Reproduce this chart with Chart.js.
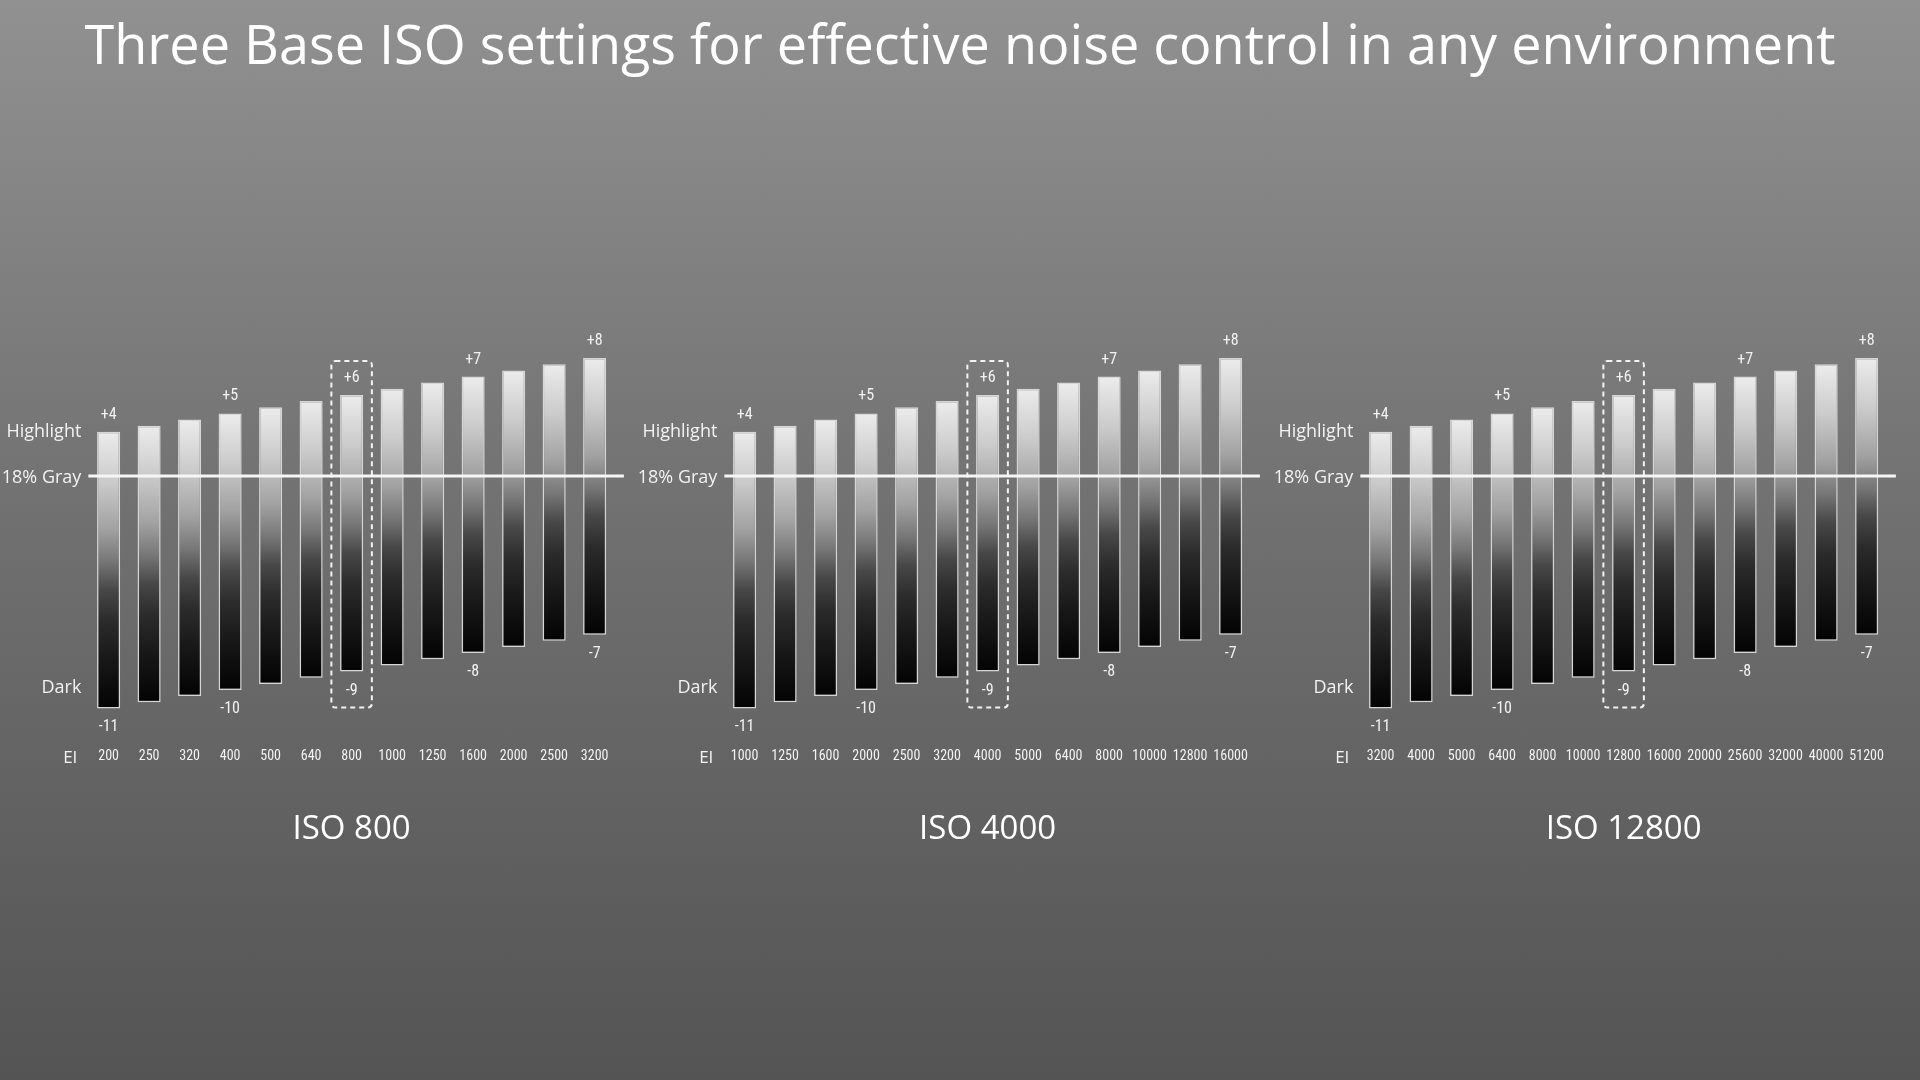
<!DOCTYPE html>
<html>
<head>
<meta charset="utf-8">
<script src="https://cdn.jsdelivr.net/npm/chart.js@4.4.1/dist/chart.umd.min.js"></script>
<style>
  html, body { margin: 0; padding: 0; }
  body {
    width: 1920px; height: 1080px; overflow: hidden; position: relative;
    background: linear-gradient(to bottom, #919191 0%, #6f6f6f 50%, #545454 100%);
    font-family: "Open Sans", "Noto Sans", sans-serif;
  }
  #titulo {
    position: absolute; left: 0; top: 7px; width: 1920px; text-align: center;
    color: #fff; font-size: 54px; line-height: 72px; white-space: nowrap;
  }
  .panel { position: absolute; top: 300px; width: 636px; height: 600px; }
</style>
</head>
<body>
<div id="titulo">Three Base ISO settings for effective noise control in any environment</div>
<div class="panel" style="left:0px"><canvas id="chartIso800"></canvas></div>
<div class="panel" style="left:636px"><canvas id="chartIso4000"></canvas></div>
<div class="panel" style="left:1272px"><canvas id="chartIso12800"></canvas></div>
<script>
// EI values for each base ISO
const eiIso800 = ['200', '250', '320', '400', '500', '640', '800', '1000', '1250', '1600', '2000', '2500', '3200'];
const eiIso4000 = ['1000', '1250', '1600', '2000', '2500', '3200', '4000', '5000', '6400', '8000', '10000', '12800', '16000'];
const eiIso12800 = ['3200', '4000', '5000', '6400', '8000', '10000', '12800', '16000', '20000', '25600', '32000', '40000', '51200'];

// latitude in stops (same for the three bases)
const highlightStops = [4, 4.33, 4.67, 5, 5.33, 5.67, 6, 6.33, 6.67, 7, 7.33, 7.67, 8];
const darkStops = [-11, -10.67, -10.33, -10, -9.67, -9.33, -9, -8.67, -8.33, -8, -7.67, -7.33, -7];

const isoTitles = ['ISO 800', 'ISO 4000', 'ISO 12800'];
const baseIndex = 6;          // EI that equals the base ISO (dashed box)
const grayLevel = 1.6;        // where the 18% gray line sits
const sideLabels = ['Highlight', '18% Gray', 'Dark'];
const sideValues = [4, 1.5, -9.9];

const textColor = '#f2f2f2';
const tickFont = '"Roboto Condensed", "DejaVu Sans Condensed", Roboto, sans-serif';
const labelFont = '"Open Sans", "Noto Sans", sans-serif';

function barGradient(context) {
    const chart = context.chart;
    if (!chart.chartArea || !context.raw) return '#888';
    const y = chart.scales.y;
    const top = y.getPixelForValue(context.raw[1]);
    const bottom = y.getPixelForValue(context.raw[0]);
    const g = chart.ctx.createLinearGradient(0, top, 0, bottom);
    g.addColorStop(0, '#ececec');
    g.addColorStop(0.18, '#cbcbcb');
    g.addColorStop(0.35, '#a2a2a2');
    g.addColorStop(0.47, '#767676');
    g.addColorStop(0.57, '#484848');
    g.addColorStop(0.68, '#2c2c2c');
    g.addColorStop(0.82, '#181818');
    g.addColorStop(1, '#030303');
    return g;
}

// 18% gray line, dashed box, stop labels and the EI label
const decoracion = {
    id: 'decoracion',
    afterDatasetsDraw(chart) {
        const ctx = chart.ctx;
        const area = chart.chartArea;
        const x = chart.scales.x;
        const y = chart.scales.y;
        const meta = chart.getDatasetMeta(0);
        ctx.save();

        // gray line
        const yGray = y.getPixelForValue(grayLevel);
        ctx.strokeStyle = '#f6f6f6';
        ctx.lineWidth = 3;
        ctx.beginPath();
        ctx.moveTo(area.left, yGray);
        ctx.lineTo(area.right + 9, yGray);
        ctx.stroke();

        // stop labels
        ctx.fillStyle = textColor;
        ctx.font = '16px ' + tickFont;
        ctx.textAlign = 'center';
        ctx.textBaseline = 'middle';
        meta.data.forEach((bar, i) => {
            if (Number.isInteger(highlightStops[i])) {
                ctx.fillText('+' + highlightStops[i], bar.x, y.getPixelForValue(highlightStops[i]) - 17);
            }
            if (Number.isInteger(darkStops[i])) {
                ctx.fillText(String(darkStops[i]), bar.x, y.getPixelForValue(darkStops[i]) + 19);
            }
        });

        // dashed box round the base ISO
        const cx = x.getPixelForValue(baseIndex);
        const half = (area.right - area.left) / chart.data.labels.length / 2;
        const top = y.getPixelForValue(highlightStops[baseIndex]) - 34;
        const bottom = y.getPixelForValue(darkStops[baseIndex]) + 36;
        ctx.setLineDash([5, 4]);
        ctx.lineWidth = 2;
        ctx.strokeStyle = 'rgba(250,250,250,0.95)';
        ctx.beginPath();
        ctx.roundRect(cx - half, top, half * 2, bottom - top, 4);
        ctx.stroke();
        ctx.setLineDash([]);

        // EI
        ctx.font = '17px ' + labelFont;
        ctx.textAlign = 'right';
        ctx.fillText('EI', area.left - 11, area.bottom + 22);
        ctx.restore();
    }
};

function crearGrafico(canvasId, eiLabels, titulo) {
    return new Chart(document.getElementById(canvasId), {
        type: 'bar',
        data: {
            labels: eiLabels,
            datasets: [{
                label: titulo,
                data: eiLabels.map((_, i) => [darkStops[i], highlightStops[i]]),
                backgroundColor: barGradient,
                borderColor: '#d6d6d6',
                borderWidth: 1.5,
                borderSkipped: false,
                barPercentage: 0.57,
                categoryPercentage: 1
            }]
        },
        options: {
            responsive: true,
            maintainAspectRatio: false,
            animation: false,
            layout: {
                padding: { top: 21.2, right: 21.1, bottom: 0, left: 0 }
            },
            plugins: {
                legend: { display: false },
                tooltip: { enabled: false }
            },
            scales: {
                x: {
                    grid: { display: false, drawTicks: false },
                    border: { display: false },
                    ticks: {
                        color: textColor,
                        font: { family: tickFont, size: 14 },
                        padding: 12,
                        autoSkip: false,
                        maxRotation: 0
                    },
                    title: {
                        display: true,
                        text: titulo,
                        color: '#ffffff',
                        font: { family: labelFont, size: 33 },
                        padding: { top: 0, bottom: 50.7 }
                    },
                    afterFit: function (scale) { scale.height = 163.9; }
                },
                y: {
                    min: -12.5,
                    max: 10,
                    grid: { display: false, drawTicks: false },
                    border: { display: false },
                    afterBuildTicks: function (scale) {
                        scale.ticks = sideValues.map(v => ({ value: v }));
                    },
                    ticks: {
                        color: textColor,
                        font: { family: labelFont, size: 18 },
                        padding: 7,
                        callback: function (value, index) {
                            return sideLabels[index];
                        }
                    },
                    afterFit: function (scale) { scale.width = 88.35; }
                }
            }
        },
        plugins: [decoracion]
    });
}

crearGrafico('chartIso800', eiIso800, isoTitles[0]);
crearGrafico('chartIso4000', eiIso4000, isoTitles[1]);
crearGrafico('chartIso12800', eiIso12800, isoTitles[2]);
</script>
</body>
</html>
